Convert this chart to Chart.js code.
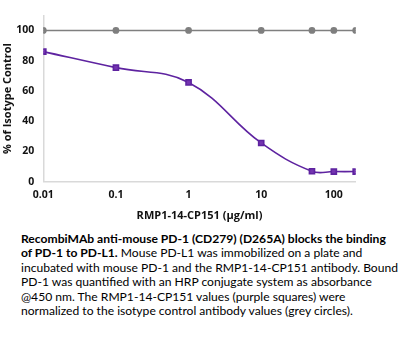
<!DOCTYPE html>
<html>
<head>
<meta charset="utf-8">
<script src="https://cdn.jsdelivr.net/npm/chart.js@4/dist/chart.umd.min.js"></script>
<style>
  html, body { margin: 0; padding: 0; background: #fff; }
  #wrap { position: relative; width: 400px; height: 222px; }
  #caption {
    position: absolute; left: 21px; top: 232px;
    font-family: Lato, "Noto Sans", sans-serif; font-size: 12.1px; line-height: 14.4px;
    color: #000; white-space: nowrap;
  }
  #caption b { font-weight: 700; }
</style>
</head>
<body>
<div id="wrap"><canvas id="chart"></canvas></div>
<div id="caption">
  <b>RecombiMAb anti-mouse PD-1 (CD279) (D265A) blocks the binding</b><br>
  <b>of PD-1 to PD-L1.</b> Mouse PD-L1 was immobilized on a plate and<br>
  incubated with mouse PD-1 and the RMP1-14-CP151 antibody. Bound<br>
  PD-1 was quantified with an HRP conjugate system as absorbance<br>
  @450 nm. The RMP1-14-CP151 values (purple squares) were<br>
  normalized to the isotype control antibody values (grey circles).
</div>
<script>
// concentrations (µg/ml)
const concentrations = [0.01, 0.1, 1, 10, 50, 100, 200];
const rmpValues = [86.0, 75.4, 65.6, 25.6, 6.9, 6.7, 6.7];
const isotypeValues = [100, 100, 100, 100, 100, 100, 100];
const xTicks = [0.01, 0.1, 1, 10, 100];
const xTickLabels = ['0.01', '0.1', '1', '10', '100'];

const fontFamily = '"Open Sans", "Noto Sans", sans-serif';
const tickFont = { family: fontFamily, size: 10.5, weight: 'bold' };
const titleFont = { family: fontFamily, size: 11, weight: 'bold' };
const CANVAS_H = 222;
const AXIS_Y = 181.7;

const ctx = document.getElementById('chart').getContext('2d');
new Chart(ctx, {
  type: 'line',
  data: {
    datasets: [
      {
        label: 'Isotype control',
        data: concentrations.map((c, i) => ({ x: c, y: isotypeValues[i] })),
        borderColor: '#7f7f7f',
        backgroundColor: '#7f7f7f',
        borderWidth: 1.6,
        pointStyle: 'circle',
        pointRadius: 2.6,
        tension: 0
      },
      {
        label: 'RMP1-14-CP151',
        data: concentrations.map((c, i) => ({ x: c, y: rmpValues[i] })),
        borderColor: '#5e23a0',
        backgroundColor: '#7434b0',
        borderWidth: 1.6,
        pointStyle: 'rect',
        pointRadius: 3.6,
        tension: 0.4
      }
    ]
  },
  options: {
    responsive: true,
    maintainAspectRatio: false,
    animation: false,
    layout: { padding: { left: 0, right: 44.3, top: 5, bottom: 0 } },
    plugins: {
      legend: { display: false },
      tooltip: { enabled: false }
    },
    scales: {
      x: {
        type: 'logarithmic',
        min: 0.01,
        max: 200,
        afterBuildTicks: scale => {
          scale.ticks = xTicks.map(v => ({ value: v }));
        },
        afterFit: scale => {
          scale.height = CANVAS_H - AXIS_Y;
        },
        grid: { display: false, drawTicks: false },
        border: { color: '#d9d9d9', width: 1.5 },
        ticks: {
          color: '#111',
          font: tickFont,
          padding: 7,
          maxRotation: 0,
          autoSkip: false,
          callback: (value, index) => xTickLabels[index]
        },
        title: {
          display: true,
          text: 'RMP1-14-CP151 (µg/ml)',
          color: '#111',
          font: titleFont,
          padding: { top: 2, bottom: 0 }
        }
      },
      y: {
        min: 0,
        max: 110,
        afterFit: scale => {
          scale.width = 43.3;
        },
        grid: { display: false, drawTicks: false },
        border: { color: '#d9d9d9', width: 1.5 },
        ticks: {
          stepSize: 20,
          includeBounds: false,
          color: '#111',
          font: tickFont,
          padding: 9
        },
        title: {
          display: true,
          text: '% of Isotype Control',
          color: '#111',
          font: titleFont,
          padding: { top: 1, bottom: 0 }
        }
      }
    }
  }
});
</script>
</body>
</html>
